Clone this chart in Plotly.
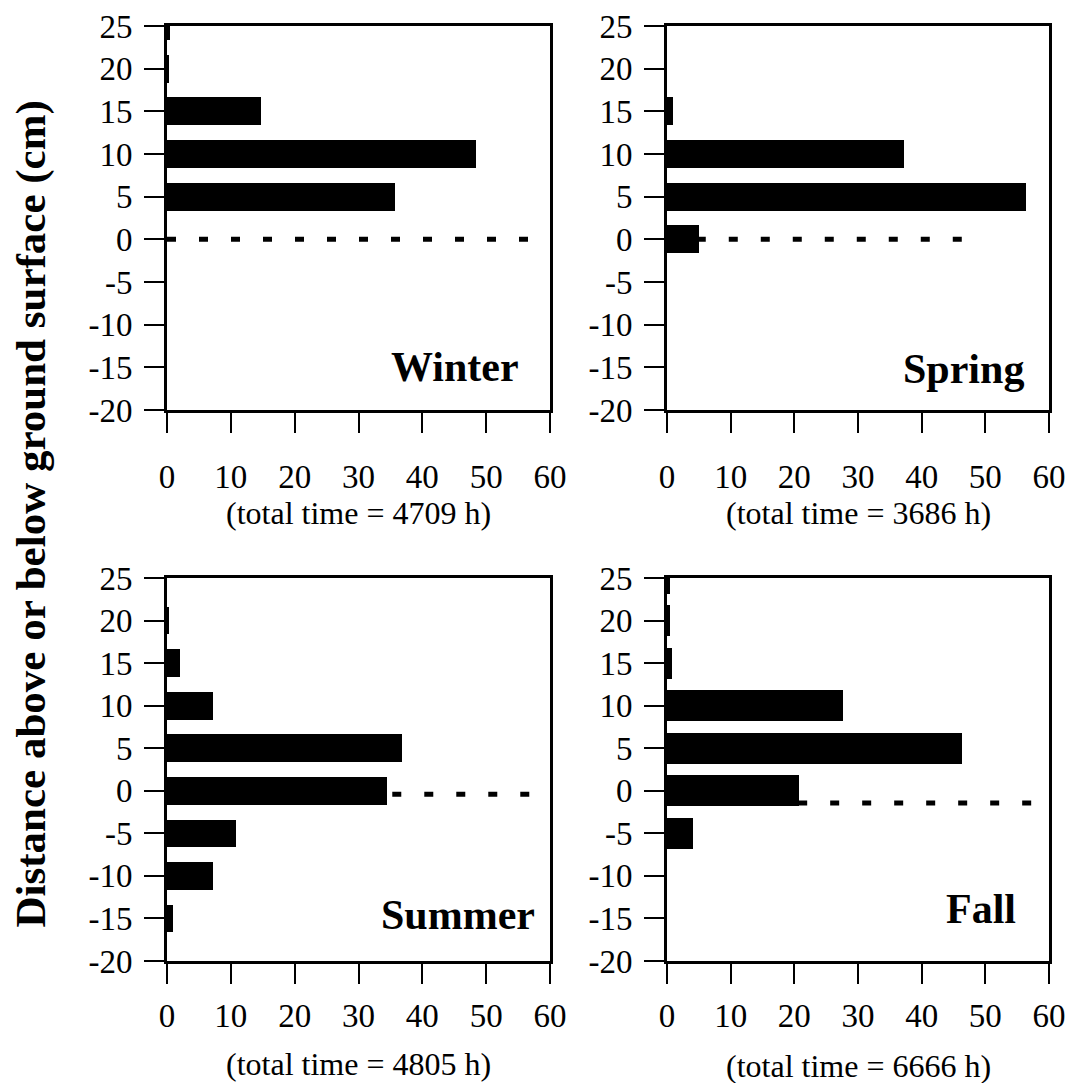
import plotly.graph_objects as go

# Height classes (cm above / below the ground surface)
depths = [25, 20, 15, 10, 5, 0, -5, -10, -15]

# Percentage of time spent at each height, per season
winter = [0.4, 0.3, 14.8, 48.4, 35.7, 0, 0, 0, 0]
spring = [0, 0, 0.9, 37.2, 56.4, 5.1, 0, 0, 0]
summer = [0, 0.35, 2.1, 7.2, 36.8, 34.4, 10.8, 7.2, 1.0]
fall = [0.5, 0.4, 0.75, 27.6, 46.3, 20.8, 4.1, 0, 0]

seasons = ["Winter", "Spring", "Summer", "Fall"]
total_hours = [4709, 3686, 4805, 6666]

# Ground-surface reference line per season: level and x extent
ground_level = [0, 0, -0.4, -1.45]
ground_x_start = [0, -0.35, 0.2, 0.5]
ground_x_end = [56.9, 46.7, 57.3, 57.7]

x_ticks = [0, 10, 20, 30, 40, 50, 60]
y_ticks = [-20, -15, -10, -5, 0, 5, 10, 15, 20, 25]
y_tick_text = ["-20", "-15", "-10", "-5", "0", "5", "10", "15", "20", "25"]

series = [winter, spring, summer, fall]
bar_width = [3.25, 3.25, 3.25, 3.65]

W, H = 1071, 1083
FONT = "Liberation Serif, Times New Roman, serif"

# pixel boxes of the four panels (left, right, top, bottom)
panels = [
    (167, 550, 26, 410),
    (667, 1049, 26, 410),
    (167, 550, 578, 961),
    (667, 1049, 578, 961),
]
label_pos = [(55.4, -15.0), (56.4, -15.2), (57.9, -14.6), (55.1, -13.9)]
subtitle_y = [513, 513, 1064, 1066]
x_label_standoff = [15, 15, 3, 3]

fig = go.Figure()
annotations = []
layout_axes = {}

for i in range(4):
    xa = "x" if i == 0 else f"x{i + 1}"
    ya = "y" if i == 0 else f"y{i + 1}"
    l, r, t, b = panels[i]

    # dashed ground line, drawn beneath the bars
    fig.add_trace(go.Scatter(
        x=[ground_x_start[i], ground_x_end[i]],
        y=[ground_level[i], ground_level[i]],
        mode="lines",
        line=dict(color="black", width=5, dash="9px,23px"),
        xaxis=xa, yaxis=ya, showlegend=False, hoverinfo="skip",
    ))
    fig.add_trace(go.Bar(
        x=series[i], y=depths, orientation="h",
        width=bar_width[i],
        marker=dict(color="black", line=dict(width=0)),
        xaxis=xa, yaxis=ya, showlegend=False,
    ))

    xkey = "xaxis" if i == 0 else f"xaxis{i + 1}"
    ykey = "yaxis" if i == 0 else f"yaxis{i + 1}"
    layout_axes[xkey] = dict(
        domain=[l / W, r / W], anchor=ya, range=[0, 60], automargin=False,
        tickvals=x_ticks, ticks="outside", ticklen=20, tickwidth=1.5,
        tickcolor="black", showline=True, linewidth=3, linecolor="black",
        mirror=True, showgrid=False, zeroline=False,
        tickfont=dict(family=FONT, size=33, color="black"),
        ticklabelposition="outside",
        ticklabelstandoff=x_label_standoff[i],
    )
    layout_axes[ykey] = dict(
        domain=[1 - b / H, 1 - t / H], anchor=xa, range=[-20, 25],
        automargin=False,
        tickvals=y_ticks, ticktext=y_tick_text, ticks="outside", ticklen=20,
        tickwidth=1.5, tickcolor="black", showline=True, linewidth=3,
        linecolor="black", mirror=True, showgrid=False, zeroline=False,
        tickfont=dict(family=FONT, size=33, color="black"),
        ticklabelposition="outside",
        ticklabelstandoff=5,
    )

    lx, ly = label_pos[i]
    annotations.append(dict(
        x=lx, y=ly, xref=xa, yref=ya, text=f"<b>{seasons[i]}</b>",
        showarrow=False, xanchor="right", yanchor="middle",
        font=dict(family=FONT, size=42, color="black"),
    ))
    annotations.append(dict(
        x=(l + r) / 2 / W, y=1 - subtitle_y[i] / H, xref="paper", yref="paper",
        text=f"(total time = {total_hours[i]} h)", showarrow=False,
        xanchor="center", yanchor="middle",
        font=dict(family=FONT, size=32, color="black"),
    ))

annotations.append(dict(
    x=30.5 / W, y=1 - 514 / H, xref="paper", yref="paper",
    text="<b>Distance above or below ground surface (cm)</b>",
    textangle=-90, showarrow=False, xanchor="center", yanchor="middle",
    font=dict(family=FONT, size=43, color="black"),
))

fig.update_layout(
    width=W, height=H, autosize=False,
    margin=dict(l=0, r=0, t=0, b=0, pad=0, autoexpand=False),
    paper_bgcolor="white", plot_bgcolor="white",
    bargap=0,
    annotations=annotations,
    **layout_axes,
)

fig.write_html("out.html")
